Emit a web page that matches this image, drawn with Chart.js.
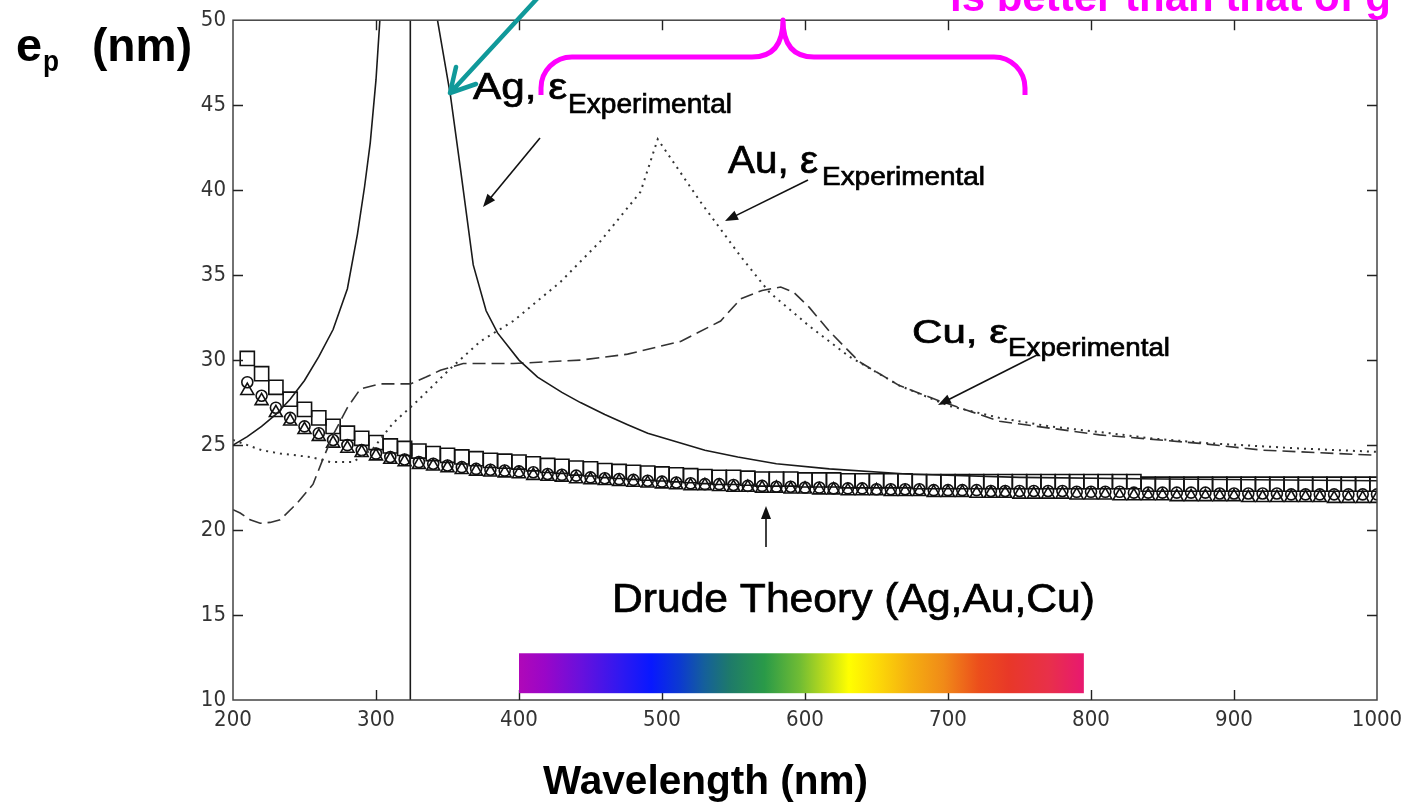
<!DOCTYPE html>
<html>
<head>
<meta charset="utf-8">
<script src="https://cdn.jsdelivr.net/npm/chart.js@4"></script>
<style>
  body { margin: 0; background: #fff; }
  #c { display: block; }
</style>
</head>
<body>
<canvas id="c" width="1404" height="804"></canvas>
<script>
// --- data ---
const xTicks = [200, 300, 400, 500, 600, 700, 800, 900, 1000];
const yTicks = [10, 15, 20, 25, 30, 35, 40, 45, 50];

// Ag, experimental eps (solid)
const agWl = [200, 210, 220, 230, 240, 250, 260, 270, 280, 287, 292, 296, 300, 305, 312, 320, 328, 335, 343, 352, 359, 368, 377, 385, 400, 413, 430, 443, 460, 476, 490, 510, 530, 553, 580, 617, 671, 750, 850, 1000];
const agEp = [25.0, 25.5, 26.1, 26.8, 27.7, 28.8, 30.2, 31.8, 34.2, 37.4, 40.2, 42.8, 46.5, 53, 70, 95, 85, 65, 50, 45.6, 41.3, 35.6, 32.9, 31.6, 30.0, 29.0, 28.1, 27.5, 26.8, 26.2, 25.7, 25.2, 24.7, 24.3, 23.9, 23.6, 23.3, 23.1, 23.0, 22.9];

// Au, experimental eps (dotted)
const auWl = [200, 220, 233, 254, 268, 284, 298, 312, 329, 352, 373, 396, 429, 457, 485, 497, 527, 555, 575, 603, 631, 666, 701, 736, 771, 813, 841, 884, 946, 1000];
const auEp = [25.3, 24.7, 24.5, 24.3, 24.0, 24.0, 24.8, 26.3, 27.6, 29.5, 31.1, 32.3, 34.6, 37.0, 39.9, 43.0, 39.3, 36.1, 34.0, 32.0, 30.2, 28.5, 27.3, 26.6, 26.1, 25.7, 25.4, 25.1, 24.8, 24.6];

// Cu, experimental eps (dashed)
const cuWl = [200, 205, 212, 219, 226, 233, 245, 256, 263, 270, 280, 289, 303, 315, 324, 335, 345, 361, 396, 443, 476, 513, 541, 555, 570, 583, 592, 603, 617, 638, 666, 694, 736, 806, 876, 920, 1000];
const cuEp = [21.2, 21.0, 20.6, 20.4, 20.45, 20.6, 21.6, 22.7, 24.2, 25.6, 27.2, 28.3, 28.6, 28.6, 28.6, 29.0, 29.4, 29.8, 29.8, 30.0, 30.35, 31.1, 32.3, 33.6, 34.1, 34.3, 34.0, 33.1, 31.7, 29.9, 28.5, 27.6, 26.4, 25.6, 25.1, 24.7, 24.4];

// Drude theory, sampled every 10 nm
const drudeWl = [210, 220, 230, 240, 250, 260, 270, 280, 290, 300, 310, 320, 330, 340, 350, 360, 370, 380, 390, 400,
  410, 420, 430, 440, 450, 460, 470, 480, 490, 500, 510, 520, 530, 540, 550, 560, 570, 580, 590, 600,
  610, 620, 630, 640, 650, 660, 670, 680, 690, 700, 710, 720, 730, 740, 750, 760, 770, 780, 790, 800,
  810, 820, 830, 840, 850, 860, 870, 880, 890, 900, 910, 920, 930, 940, 950, 960, 970, 980, 990, 1000];
const drudeSquare = [30.1, 29.2, 28.4, 27.7, 27.1, 26.6, 26.1, 25.7, 25.4, 25.15, 24.95, 24.8, 24.65, 24.5, 24.4, 24.3, 24.2, 24.1, 24.05, 24.0,
  23.9, 23.8, 23.75, 23.65, 23.6, 23.5, 23.45, 23.4, 23.35, 23.3, 23.25, 23.2, 23.15, 23.1, 23.1, 23.05, 23.0, 23.0, 23.0, 22.95,
  22.95, 22.95, 22.9, 22.9, 22.9, 22.9, 22.9, 22.85, 22.85, 22.85, 22.85, 22.85, 22.85, 22.85, 22.85, 22.85, 22.85, 22.85, 22.85, 22.85,
  22.85, 22.85, 22.85, 22.7, 22.7, 22.7, 22.7, 22.7, 22.7, 22.7, 22.7, 22.7, 22.7, 22.7, 22.7, 22.7, 22.7, 22.7, 22.7, 22.7];
const drudeCircle = [28.7, 27.9, 27.2, 26.6, 26.1, 25.7, 25.3, 25.0, 24.7, 24.5, 24.3, 24.15, 24.0, 23.9, 23.8, 23.7, 23.6, 23.55, 23.5, 23.45,
  23.4, 23.3, 23.25, 23.2, 23.1, 23.05, 23.0, 22.95, 22.9, 22.85, 22.8, 22.75, 22.7, 22.7, 22.65, 22.6, 22.6, 22.55, 22.55, 22.5,
  22.5, 22.45, 22.45, 22.45, 22.4, 22.4, 22.4, 22.4, 22.35, 22.35, 22.35, 22.35, 22.3, 22.3, 22.3, 22.3, 22.3, 22.3, 22.25, 22.25,
  22.25, 22.25, 22.2, 22.2, 22.2, 22.2, 22.2, 22.2, 22.15, 22.15, 22.15, 22.15, 22.15, 22.1, 22.1, 22.1, 22.1, 22.1, 22.1, 22.1];
const drudeTriangle = [28.2, 27.6, 26.9, 26.4, 25.9, 25.5, 25.1, 24.8, 24.55, 24.35, 24.15, 24.0, 23.85, 23.75, 23.65, 23.55, 23.45, 23.4, 23.35, 23.3,
  23.2, 23.15, 23.1, 23.0, 22.95, 22.9, 22.85, 22.8, 22.75, 22.7, 22.65, 22.6, 22.6, 22.55, 22.5, 22.5, 22.45, 22.45, 22.4, 22.4,
  22.35, 22.35, 22.3, 22.3, 22.3, 22.25, 22.25, 22.25, 22.2, 22.2, 22.2, 22.15, 22.15, 22.15, 22.1, 22.1, 22.1, 22.1, 22.05, 22.05,
  22.05, 22.0, 22.0, 22.0, 22.0, 21.95, 21.95, 21.95, 21.95, 21.95, 21.9, 21.9, 21.9, 21.9, 21.9, 21.9, 21.85, 21.85, 21.85, 21.85];

// vertical marker line
const markerWl = [324, 324];
const markerEp = [10, 50];

// visible spectrum band (nm) and its height (ep units)
const spectrumWl = [400, 795];
const spectrumEp = [10.4, 12.75];

const pts = (xs, ys) => xs.map((x, i) => ({ x, y: ys[i] }));

const SANS = '"Liberation Sans", Arial, sans-serif';
const NARROW = '"Liberation Sans Narrow", "DejaVu Sans Condensed", "Liberation Sans", sans-serif';

// text squeezed/stretched into a given span
function fitText(ctx, text, x0, x1, base, size, weight, color) {
    const bold = weight === 'bold';
    ctx.save();
    ctx.font = `${bold ? 'bold' : 'normal'} ${size}px ${SANS}`;
    ctx.fillStyle = color || '#000';
    ctx.strokeStyle = color || '#000';
    ctx.lineWidth = 0.7;
    ctx.textBaseline = 'alphabetic';
    ctx.textAlign = 'left';
    const w = ctx.measureText(text).width;
    ctx.translate(x0, base);
    ctx.scale((x1 - x0) / w, 1);
    ctx.fillText(text, 0, 0);
    if (!bold) ctx.strokeText(text, 0, 0);
    ctx.restore();
}

function arrow(ctx, x0, y0, x1, y1) {
    const a = Math.atan2(y1 - y0, x1 - x0);
    const hl = 13, hw = 5;
    ctx.save();
    ctx.strokeStyle = '#111';
    ctx.fillStyle = '#111';
    ctx.lineWidth = 1.6;
    ctx.beginPath();
    ctx.moveTo(x0, y0);
    ctx.lineTo(x1 - hl * 0.8 * Math.cos(a), y1 - hl * 0.8 * Math.sin(a));
    ctx.stroke();
    ctx.beginPath();
    ctx.moveTo(x1, y1);
    ctx.lineTo(x1 - hl * Math.cos(a) + hw * Math.sin(a), y1 - hl * Math.sin(a) - hw * Math.cos(a));
    ctx.lineTo(x1 - hl * Math.cos(a) - hw * Math.sin(a), y1 - hl * Math.sin(a) + hw * Math.cos(a));
    ctx.closePath();
    ctx.fill();
    ctx.restore();
}

const frame = {
    id: 'frame',
    afterDatasetsDraw(chart) {
        const { ctx, chartArea: a, scales: { x, y } } = chart;
        ctx.save();
        ctx.strokeStyle = '#444';
        ctx.lineWidth = 1.5;
        ctx.strokeRect(a.left, a.top, a.right - a.left, a.bottom - a.top);
        ctx.lineWidth = 1.4;
        ctx.strokeStyle = '#222';
        ctx.beginPath();
        xTicks.slice(1, -1).forEach(v => {
            const px = Math.round(x.getPixelForValue(v)) + 0.5;
            ctx.moveTo(px, a.bottom); ctx.lineTo(px, a.bottom - 10);
            ctx.moveTo(px, a.top); ctx.lineTo(px, a.top + 10);
        });
        yTicks.slice(1, -1).forEach(v => {
            const py = Math.round(y.getPixelForValue(v)) + 0.5;
            ctx.moveTo(a.left, py); ctx.lineTo(a.left + 10, py);
            ctx.moveTo(a.right, py); ctx.lineTo(a.right - 10, py);
        });
        ctx.stroke();

        // spectrum bar
        const sx0 = x.getPixelForValue(spectrumWl[0]), sx1 = x.getPixelForValue(spectrumWl[1]);
        const sy0 = y.getPixelForValue(spectrumEp[1]), sy1 = y.getPixelForValue(spectrumEp[0]);
        const g = ctx.createLinearGradient(sx0, 0, sx1, 0);
        [[0, '#b008b8'], [0.046, '#9a06c8'], [0.108, '#6a10dc'], [0.179, '#3018f0'], [0.234, '#0818ff'],
         [0.285, '#0c3ad0'], [0.329, '#15609a'], [0.373, '#1e7a6a'], [0.435, '#2a9a48'], [0.497, '#70bc34'],
         [0.549, '#c8e018'], [0.584, '#ffff00'], [0.637, '#fcd808'], [0.69, '#f5b010'], [0.752, '#f08a18'],
         [0.814, '#ec4e1c'], [0.867, '#e83828'], [0.938, '#e8304a'], [1, '#e81870']].forEach(s => g.addColorStop(s[0], s[1]));
        ctx.fillStyle = g;
        ctx.fillRect(sx0, sy0, sx1 - sx0, sy1 - sy0);
        ctx.restore();
    },
    afterDraw(chart) {
        const ctx = chart.ctx;
        // axis titles
        fitText(ctx, 'Wavelength (nm)', 543, 868, 794, 40, 'bold');
        fitText(ctx, 'e', 16, 42, 61, 46, 'bold');
        fitText(ctx, 'p', 43, 59, 71, 30, 'bold');
        fitText(ctx, '(nm)', 92, 192, 61, 46, 'bold');

        // curve labels
        fitText(ctx, 'Ag, ε', 473, 567, 99, 36);
        fitText(ctx, 'Experimental', 568, 732, 113, 27);
        fitText(ctx, 'Au, ε', 728, 818, 173, 38);
        fitText(ctx, 'Experimental', 822, 985, 185, 26);
        fitText(ctx, 'Cu, ε', 912, 1008, 343, 34);
        fitText(ctx, 'Experimental', 1008, 1170, 356, 26);
        fitText(ctx, 'Drude Theory (Ag,Au,Cu)', 612, 1095, 612, 40);
        arrow(ctx, 540, 138, 483, 207);
        arrow(ctx, 808, 180, 725, 221);
        arrow(ctx, 1037, 355, 938, 405);
        arrow(ctx, 766, 547, 766, 506);

        // teal pointer
        ctx.save();
        ctx.strokeStyle = '#10999a';
        ctx.lineWidth = 4.5;
        ctx.lineCap = 'round';
        ctx.lineJoin = 'round';
        ctx.beginPath();
        ctx.moveTo(545, -10); ctx.lineTo(451, 92);
        ctx.moveTo(456, 67); ctx.lineTo(450, 93); ctx.lineTo(476, 84);
        ctx.stroke();

        // magenta brace
        ctx.strokeStyle = '#ff00ff';
        ctx.lineWidth = 5;
        ctx.lineCap = 'butt';
        ctx.beginPath();
        ctx.moveTo(541, 95);
        ctx.lineTo(541, 88);
        ctx.arcTo(541, 57, 572, 57, 31);
        ctx.lineTo(752, 57);
        ctx.quadraticCurveTo(783, 57, 783, 20);
        ctx.quadraticCurveTo(783, 57, 814, 57);
        ctx.lineTo(994, 57);
        ctx.arcTo(1025, 57, 1025, 88, 31);
        ctx.lineTo(1025, 95);
        ctx.stroke();
        ctx.restore();

        // cut-off caption at the top
        ctx.save();
        ctx.font = `bold 42px ${SANS}`;
        ctx.fillStyle = '#ff00ff';
        ctx.textBaseline = 'alphabetic';
        ctx.fillText('is better than that of g', 950, 11);
        ctx.restore();
    }
};

const lineStyle = { showLine: true, pointRadius: 0, borderColor: '#1a1a1a', tension: 0 };
const markerStyle = { showLine: false, borderColor: '#111', backgroundColor: 'rgba(0,0,0,0)', borderWidth: 1.6 };
const tickFont = { family: NARROW, size: 22 };

new Chart(document.getElementById('c'), {
    type: 'scatter',
    data: {
        datasets: [
            { label: 'Ag, ε Experimental', data: pts(agWl, agEp), ...lineStyle, borderWidth: 1.6 },
            { label: 'Au, ε Experimental', data: pts(auWl, auEp), ...lineStyle, borderWidth: 2, borderColor: '#333', borderDash: [2, 5] },
            { label: 'Cu, ε Experimental', data: pts(cuWl, cuEp), ...lineStyle, borderWidth: 1.6, borderColor: '#333', borderDash: [13, 6] },
            { label: 'marker', data: pts(markerWl, markerEp), ...lineStyle, borderWidth: 1.6 },
            { label: 'Drude Ag', data: pts(drudeWl, drudeSquare), ...markerStyle, pointStyle: 'rect', pointRadius: 10 },
            { label: 'Drude Au', data: pts(drudeWl, drudeCircle), ...markerStyle, pointStyle: 'circle', pointRadius: 5.5 },
            { label: 'Drude Cu', data: pts(drudeWl, drudeTriangle), ...markerStyle, pointStyle: 'triangle', pointRadius: 7.5 }
        ]
    },
    options: {
        responsive: false,
        animation: false,
        events: [],
        layout: { padding: { left: 0, top: 15, right: 27, bottom: 0 } },
        plugins: { legend: { display: false }, tooltip: { enabled: false } },
        scales: {
            x: {
                type: 'linear', min: 200, max: 1000,
                afterFit: s => { s.height = 104; s.paddingLeft = 0; s.paddingRight = 0; },
                afterBuildTicks: s => { s.ticks = xTicks.map(v => ({ value: v })); },
                grid: { display: false, drawTicks: false },
                border: { display: false },
                ticks: { padding: 7, maxRotation: 0, autoSkip: false, color: '#333', font: tickFont, callback: v => String(v) }
            },
            y: {
                type: 'linear', min: 10, max: 50,
                afterFit: s => { s.width = 233; },
                afterBuildTicks: s => { s.ticks = yTicks.map(v => ({ value: v })); },
                grid: { display: false, drawTicks: false },
                border: { display: false },
                ticks: { padding: 7, autoSkip: false, color: '#333', font: tickFont, callback: v => String(v) }
            }
        }
    },
    plugins: [frame]
});
</script>
</body>
</html>
